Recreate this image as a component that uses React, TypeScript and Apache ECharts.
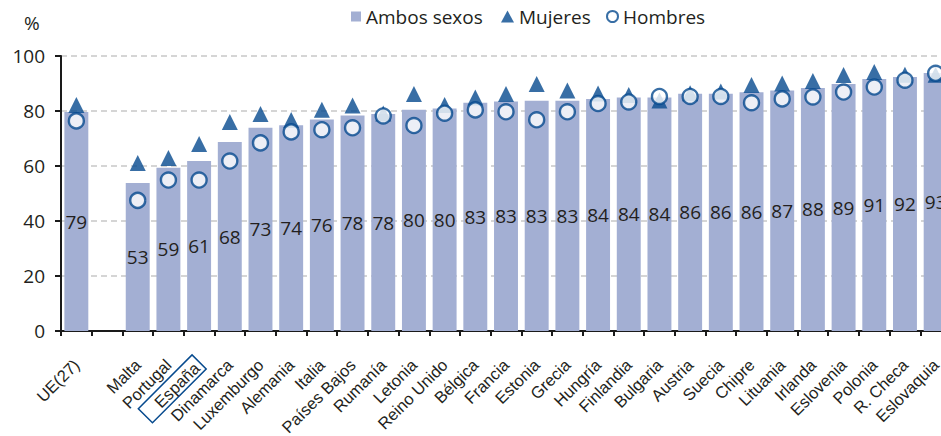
import React, { useEffect, useRef } from "react";
import * as echarts from "echarts";

const categories = [
  "UE(27)", "", "Malta", "Portugal", "España", "Dinamarca", "Luxemburgo", "Alemania", "Italia",
  "Países Bajos", "Rumanía", "Letonia", "Reino Unido", "Bélgica", "Francia", "Estonia", "Grecia",
  "Hungría", "Finlandia", "Bulgaria", "Austria", "Suecia", "Chipre", "Lituania", "Irlanda",
  "Eslovenia", "Polonia", "R. Checa", "Eslovaquia",
];

const ambosSexos = [
  79.6, null, 53.8, 59.4, 61.8, 68.7, 73.9, 74.8, 76.9, 78.4, 78.9, 80.5, 80.9, 83.0, 83.5, 83.7,
  83.7, 84.4, 84.9, 84.9, 86.3, 86.3, 86.8, 87.5, 88.4, 89.8, 91.6, 92.4, 93.8,
];

const mujeres = [
  82.2, null, 61.1, 62.9, 68.0, 76.0, 78.9, 76.7, 80.5, 82.0, 79.1, 86.2, 82.2, 84.9, 86.2, 89.8,
  87.5, 86.4, 85.8, 83.8, 86.5, 87.1, 89.5, 90.0, 90.9, 93.1, 94.2, 93.2, 93.2,
];

const hombres = [
  76.4, null, 47.5, 54.9, 54.9, 61.8, 68.4, 72.4, 73.2, 73.9, 78.2, 74.7, 79.2, 80.4, 79.7, 76.8,
  79.7, 82.7, 83.3, 85.3, 85.3, 85.3, 83.0, 84.4, 85.1, 86.9, 88.7, 91.2, 93.7,
];

const yTicks = [0, 20, 40, 60, 80, 100];

const BAR = "#a3afd3";
const BLUE = "#064a8e";
const TEXT = "#231f20";
const SANS = "'Open Sans', 'Noto Sans', sans-serif";
const ARIAL = "'Liberation Sans', Arial, sans-serif";

export default function App() {
  const ref = useRef<HTMLDivElement>(null);

  useEffect(() => {
    if (!ref.current) return;
    const chart = echarts.init(ref.current, null, { renderer: "svg" });
    const legendText = { fontFamily: SANS, fontSize: 19, color: TEXT };
    chart.setOption({
      animation: false,
      backgroundColor: "#ffffff",
      graphic: [
        {
          type: "text",
          left: 24,
          top: 13,
          style: { text: "%", fontFamily: SANS, fontSize: 19, fill: TEXT },
        },
      ],
      legend: [
        {
          data: [{ name: "Ambos sexos", icon: "rect" }],
          left: 351,
          top: 7,
          itemWidth: 10,
          itemHeight: 10,
          textStyle: legendText,
          padding: 0,
        },
        {
          data: ["Mujeres"],
          left: 501,
          top: 7,
          itemWidth: 13,
          itemHeight: 12,
          textStyle: legendText,
          padding: 0,
        },
        {
          data: ["Hombres"],
          left: 606,
          top: 7,
          itemWidth: 11,
          itemHeight: 11,
          textStyle: legendText,
          padding: 0,
        },
      ],
      grid: { left: 61, right: 1, top: 56, bottom: 105, outerBoundsMode: "none", containLabel: false },
      xAxis: {
        type: "category",
        data: categories,
        axisLine: { show: true, lineStyle: { color: "#1a1a1a", width: 2 } },
        axisTick: { show: true, interval: 0, length: 5, lineStyle: { color: "#1a1a1a", width: 2 } },
        axisLabel: {
          interval: 0,
          rotate: 45,
          margin: 31,
          fontFamily: ARIAL,
          fontSize: 16.5,
          color: TEXT,
          formatter: (v: string) => (v === "España" ? `{box|${v}}` : v),
          rich: {
            box: {
              fontFamily: ARIAL,
              fontSize: 16.5,
              color: TEXT,
              borderColor: BLUE,
              borderWidth: 1.5,
              padding: [2, 4, 1, 16],
            },
          },
        },
      },
      yAxis: {
        type: "value",
        min: yTicks[0],
        max: yTicks[yTicks.length - 1],
        interval: 20,
        axisLine: { show: true, lineStyle: { color: "#1a1a1a", width: 2 } },
        axisTick: { show: true, length: 6, lineStyle: { color: "#1a1a1a", width: 2 } },
        axisLabel: { fontFamily: SANS, fontSize: 19, color: TEXT, margin: 16 },
        splitLine: {
          show: true,
          lineStyle: { color: "#c8c8c8", width: 1.5, type: [6, 4] },
        },
      },
      series: [
        {
          name: "Ambos sexos",
          type: "bar",
          data: ambosSexos,
          barCategoryGap: "22%",
          itemStyle: { color: BAR },
          label: {
            show: true,
            position: "inside",
            fontFamily: SANS,
            fontSize: 19,
            color: TEXT,
            formatter: (p: any) => String(Math.floor(p.value)),
          },
        },
        {
          name: "Mujeres",
          type: "scatter",
          data: mujeres,
          symbol: "triangle",
          symbolSize: 16,
          itemStyle: { color: BLUE },
        },
        {
          name: "Hombres",
          type: "scatter",
          data: hombres,
          symbol: "circle",
          symbolSize: 15,
          itemStyle: { color: "#ffffff", borderColor: BLUE, borderWidth: 2.4 },
        },
      ],
    });
    return () => chart.dispose();
  }, []);

  return (
    <div
      style={{
        position: "fixed",
        left: 0,
        top: 0,
        width: 941,
        height: 436,
        overflow: "hidden",
        background: "#fff",
      }}
    >
      <div ref={ref} style={{ width: 952, height: 436 }} />
    </div>
  );
}
